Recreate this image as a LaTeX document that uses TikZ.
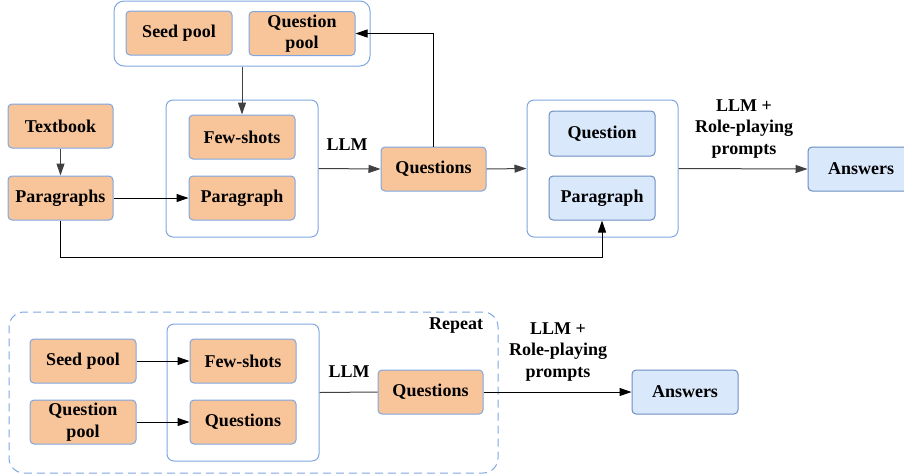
\documentclass[tikz,border=0pt]{standalone}
\usepackage{fontspec}
\setmainfont{Liberation Serif}
\newfontfamily\diagfont{Liberation Serif}
\usetikzlibrary{arrows.meta,calc}
\definecolor{peach}{HTML}{F8C59B}
\definecolor{skyfill}{HTML}{DAE8FC}
\definecolor{skyline}{HTML}{6C8EBF}
\definecolor{frameline}{HTML}{7EA6E0}
\tikzset{
	peachbox/.style={draw=frameline, fill=peach, rounded corners=4pt, line width=1pt,
		minimum width=106pt, minimum height=44pt, inner sep=0pt, align=center},
	skybox/.style={peachbox, draw=skyline, fill=skyfill},
	frame/.style={draw=frameline, rounded corners=7pt, line width=1pt, inner sep=0pt},
	flow/.style={-{Triangle[length=12pt,width=8pt]}, line width=1pt, draw=black!75},
	tag/.style={align=center, inner sep=0pt},
}

\begin{document}
\begin{tikzpicture}[x=1pt, y=-1pt, font=\diagfont\bfseries\fontsize{18}{21.5}\selectfont]
			%%%%% START %%%%%
			\useasboundingbox (0,0) rectangle (904,475);
			
			\node[frame, rounded corners=10pt, minimum width=256pt, minimum height=65pt] (pool) at (242, 33.5) {};
			\node[peachbox] (seed1) at (179, 33) {Seed pool};
			\node[peachbox] (qpool1) at (302, 33.5) {Question\\pool};
			
			\node[peachbox, minimum width=105pt] (textbook) at (60.5, 126) {Textbook};
			\node[peachbox, minimum width=105pt] (paras) at (60.5, 198) {Paragraphs};
			
			\node[frame, minimum width=152pt, minimum height=137pt] (ctx1) at (242, 168.5) {};
			\node[peachbox] (few1) at (242, 137) {Few-shots};
			\node[peachbox] (para1) at (242, 198) {Paragraph};
			
			\node[peachbox, minimum width=105pt] (quest1) at (433.5, 169) {Questions};
			
			\node[frame, minimum width=151pt, minimum height=137pt] (ctx2) at (602.5, 168.5) {};
			\node[skybox, minimum height=45pt] (qsky) at (602, 133.5) {Question};
			\node[skybox] (psky) at (602, 198) {Paragraph};
			
			\node[skybox] (ans1) at (861, 169) {Answers};
			
			\node[tag] (llm1) at (347, 145) {LLM};
			\node[tag] (role1) at (744, 129) {LLM +\\Role-playing\\prompts};
			
			\coordinate (low) at (0, 257);
			\draw[flow] (pool.south) -- (few1.north);
			\draw[flow] (textbook.south) -- (paras.north);
			\draw[flow, draw=black] (paras.east) -- (para1.west);
			\draw[flow] (ctx1.east) -- (quest1.west);
			\draw[flow, draw=black] (quest1.north) |- (qpool1.east);
			\draw[flow] (quest1.east) -- (ctx2.west);
			\draw[flow] (ctx2.east) -- (ans1.west);
			\draw[flow, draw=black] (paras.south) -- (paras.south |- low) -| (psky.south);
			
			\node[frame, dash pattern=on 8pt off 5pt, rounded corners=15pt, minimum width=489pt, minimum height=161pt] (loop) at (253.5, 392.5) {};
			\node[tag] (rep) at (456, 326) {Repeat};
			
			\node[peachbox] (seed2) at (83, 361) {Seed pool};
			\node[peachbox] (qpool2) at (83, 422) {Question\\pool};
			
			\node[frame, minimum width=152pt, minimum height=137pt] (ctx3) at (243, 392.5) {};
			\node[peachbox] (few2) at (243, 361) {Few-shots};
			\node[peachbox] (quest2) at (243, 422) {Questions};
			
			\node[peachbox, minimum width=105pt] (quest3) at (430.5, 392) {Questions};
			\node[skybox] (ans2) at (685, 392) {Answers};
			
			\node[tag] (llm2) at (349, 372) {LLM};
			\node[tag] (role2) at (558, 352) {LLM +\\Role-playing\\prompts};
			
			\draw[flow, draw=black] (seed2.east) -- (few2.west);
			\draw[flow, draw=black] (qpool2.east) -- (quest2.west);
			\draw[line width=1pt, black!75] (ctx3.east) -- (quest3.west);
			\draw[flow, draw=black] (quest3.east) -- (ans2.west);
			%%%%% END %%%%%
\end{tikzpicture}
\end{document}
